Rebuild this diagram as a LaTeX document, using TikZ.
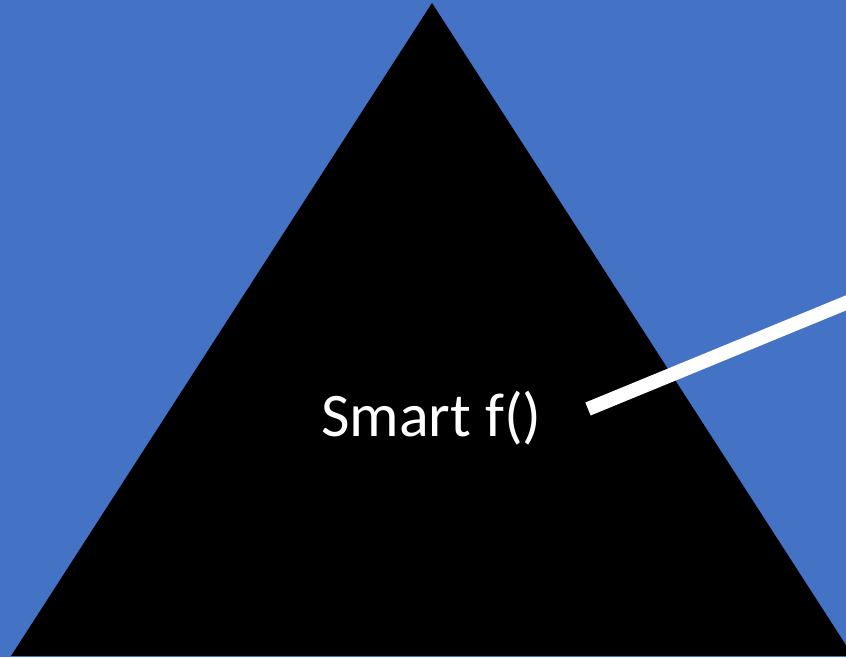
\documentclass[tikz,border=0pt]{standalone}
\usepackage{fontspec}
\setmainfont{Carlito}
\definecolor{bgblue}{HTML}{4472C4}
\begin{document}
\begin{tikzpicture}[x=1pt,y=-1pt]
\tikzset{
  tri/.style={fill=black,draw=none},
  label/.style={text=white,inner sep=0pt,anchor=base,font=\fontsize{62}{74}\selectfont},
  wline/.style={draw=white,line width=14pt,line cap=butt}
}
\useasboundingbox (0,0) rectangle (846,657);
\fill[bgblue] (0,0) rectangle (846,657);
\begin{scope}
\clip (0,0) rectangle (846,655);
\coordinate (apex) at (432,3);
\coordinate (bl) at (11,656);
\coordinate (br) at (853,656);
\fill[tri] (apex) -- (br) -- (bl) -- cycle;
\end{scope}
\node[label] (txt) at (431.5,436) {Smart f()};
\coordinate (ls) at (588,409);
\coordinate (le) at (870,293);
\begin{scope}
\clip (0,0) rectangle (846,657);
\draw[wline] (ls) -- (le);
\end{scope}
\end{tikzpicture}
\end{document}
